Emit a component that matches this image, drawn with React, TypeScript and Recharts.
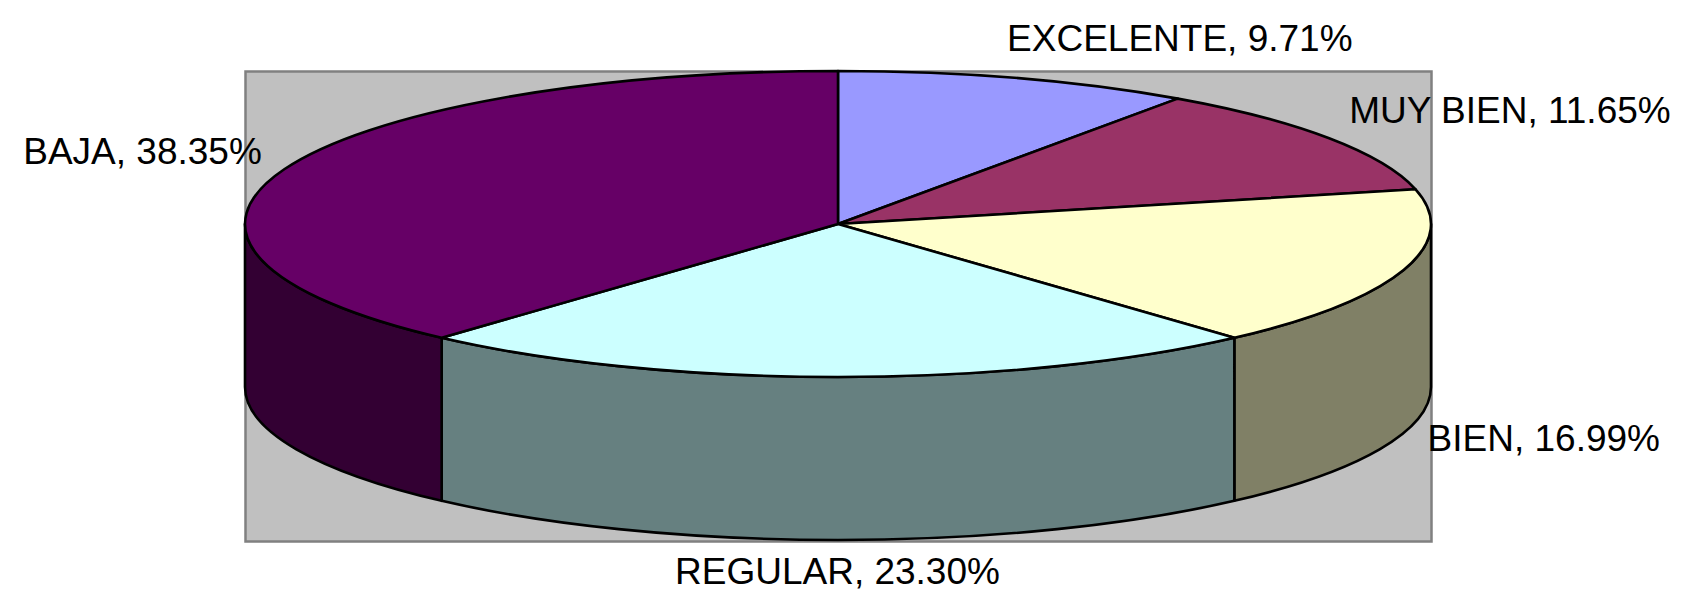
import React from 'react';
import { PieChart, Pie } from 'recharts';

const CATEGORIES = ['EXCELENTE', 'MUY BIEN', 'BIEN', 'REGULAR', 'BAJA'];
const PERCENTAGES = [9.71, 11.65, 16.99, 23.3, 38.35];
const TOP_COLORS = ['#9999FF', '#993366', '#FFFFCC', '#CCFFFF', '#660066'];
const WALL_COLORS = ['#4D4D80', '#4D1A33', '#808066', '#668080', '#330033'];
const LABEL_OFFSETS = [
  [-9, -27],
  [20, -15],
  [24, 181],
  [-163, 207],
  [-261, -5],
];

const WIDTH = 1681;
const HEIGHT = 591;
const CX = 838;
const CY = 224;
const RX = 593;
const RY = 153;
const DEPTH = 163;
const FONT = '"Liberation Sans", Arial, sans-serif';

const topData = CATEGORIES.map((name, i) => ({ name, value: PERCENTAGES[i], fill: TOP_COLORS[i] }));
const wallData = CATEGORIES.map((name, i) => ({ name, value: PERCENTAGES[i], fill: WALL_COLORS[i] }));

// t = degrees clockwise from the top of the ellipse
const rim = (t: number, dy = 0) => {
  const r = (t * Math.PI) / 180;
  return [CX + RX * Math.sin(r), CY - RY * Math.cos(r) + dy];
};

const TopSlice = (p: any) => {
  const t0 = 90 - p.startAngle;
  const t1 = 90 - p.endAngle;
  const [x0, y0] = rim(t0);
  const [x1, y1] = rim(t1);
  const large = t1 - t0 > 180 ? 1 : 0;
  const d = `M${CX},${CY}L${x0},${y0}A${RX},${RY} 0 ${large} 1 ${x1},${y1}Z`;
  return <path d={d} fill={p.fill} stroke="#000" strokeWidth={2.6} strokeLinejoin="round" />;
};

const WallSlice = (p: any) => {
  const t0 = Math.max(90 - p.startAngle, 90);
  const t1 = Math.min(90 - p.endAngle, 270);
  if (t0 >= t1) return <g />;
  const [x0, y0] = rim(t0);
  const [x1, y1] = rim(t1);
  const [x2, y2] = rim(t1, DEPTH);
  const [x3, y3] = rim(t0, DEPTH);
  const d = `M${x0},${y0}A${RX},${RY} 0 0 1 ${x1},${y1}L${x2},${y2}A${RX},${RY} 0 0 0 ${x3},${y3}Z`;
  return <path d={d} fill={p.fill} stroke="#000" strokeWidth={2.6} strokeLinejoin="round" />;
};

const SliceLabel = (p: any) => {
  const [x, y] = rim(90 - p.midAngle);
  const [dx, dy] = LABEL_OFFSETS[p.index];
  return (
    <text x={x + dx} y={y + dy} textAnchor="start" fontFamily={FONT} fontSize={37} fill="#000">
      {`${p.name}, ${p.value.toFixed(2)}%`}
    </text>
  );
};

export default function App() {
  return (
    <div style={{ position: 'absolute', left: 0, top: 0, width: WIDTH, height: HEIGHT, background: '#fff' }}>
      <PieChart width={WIDTH} height={HEIGHT} margin={{ top: 0, right: 0, bottom: 0, left: 0 }}>
        <rect x={245.5} y={71.5} width={1186} height={470} fill="#C0C0C0" stroke="#808080" strokeWidth={2.5} />
        <Pie
          data={wallData}
          dataKey="value"
          nameKey="name"
          cx={CX}
          cy={CY}
          innerRadius={0}
          outerRadius={RX}
          startAngle={90}
          endAngle={-270}
          isAnimationActive={false}
          shape={WallSlice}
          label={false}
          labelLine={false}
          rootTabIndex={-1}
        />
        <Pie
          data={topData}
          dataKey="value"
          nameKey="name"
          cx={CX}
          cy={CY}
          innerRadius={0}
          outerRadius={RX}
          startAngle={90}
          endAngle={-270}
          isAnimationActive={false}
          shape={TopSlice}
          label={SliceLabel}
          labelLine={false}
          rootTabIndex={-1}
        />
      </PieChart>
    </div>
  );
}
